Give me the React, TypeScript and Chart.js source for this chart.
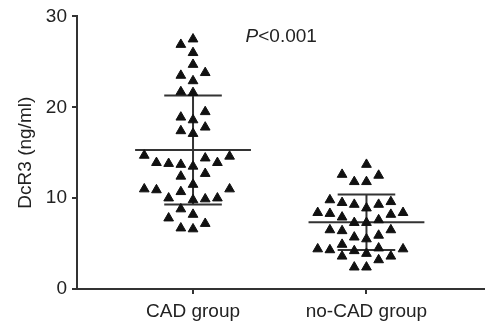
import React, { useEffect, useRef } from 'react';
import { Chart, registerables } from 'chart.js';

Chart.register(...registerables);

const categories = ['CAD group', 'no-CAD group'];

const cadValues = [
  27.5, 26.9, 26.0, 24.7, 23.8, 23.5, 22.9, 21.7, 21.6,
  19.5, 18.9, 18.6, 17.8, 17.4, 17.1,
  14.6, 13.9, 13.7, 13.5, 13.8, 13.9, 14.4, 14.7,
  12.4, 12.7, 11.5,
  11.0, 10.7, 10.0, 9.8, 9.9, 10.0, 10.9, 11.0,
  8.8, 8.2, 7.8, 7.2, 6.6, 6.7,
];

const noCadValues = [
  13.7, 12.5, 11.8, 11.8, 12.6,
  9.6, 9.3, 8.9, 9.3, 9.5, 9.8,
  8.4, 8.3, 7.9, 8.2, 8.4,
  7.3, 7.3, 7.6,
  6.5, 6.4, 6.5,
  5.9, 5.5, 5.7,
  4.5, 4.4, 4.2, 4.3, 4.4, 4.9,
  3.6, 3.9, 3.6, 3.2,
  2.4, 2.4,
];

const groupMeans = [15.3, 7.35];
const groupSDs = [6.0, 3.05];

const yTicks = [0, 10, 20, 30];
const yTitle = 'DcR3 (ng/ml)';
const pText = ['P', '<0.001'];

const FONT = "'Liberation Sans', Arial, sans-serif";
const INK = '#222';
const AXIS = '#333';

// approximate pixel scales used for the swarm layout
const PX_PER_Y = 9.07;
const PX_PER_X = 175;

function swarm(values: number[], center: number) {
  const s = 12.3; // symbol spacing px
  const h = 11.5; // vertical clearance px
  const placed: { x: number; y: number }[] = [];
  const sorted = [...values].sort((a, b) => a - b);
  for (const v of sorted) {
    const yp = v * PX_PER_Y;
    const cands: number[] = [0];
    for (let k = 1; k < 40; k++) {
      cands.push(-k * s / 2, k * s / 2);
    }
    let chosen = 0;
    for (const c of cands) {
      let ok = true;
      for (const p of placed) {
        if (Math.abs(p.y - yp) < h && Math.abs(p.x - c) < s * 0.97) { ok = false; break; }
      }
      if (ok) { chosen = c; break; }
    }
    placed.push({ x: chosen, y: yp });
  }
  return placed.map(p => ({ x: center + p.x / PX_PER_X, y: p.y / PX_PER_Y }));
}

function meanSdSets(i: number) {
  const m = groupMeans[i];
  const sd = groupSDs[i];
  const base = { showLine: true, pointRadius: 0, borderColor: AXIS, borderWidth: 2, fill: false } as any;
  return [
    { ...base, data: [{ x: i - 0.334, y: m }, { x: i + 0.334, y: m }] },
    { ...base, data: [{ x: i - 0.166, y: m + sd }, { x: i + 0.166, y: m + sd }] },
    { ...base, data: [{ x: i - 0.166, y: m - sd }, { x: i + 0.166, y: m - sd }] },
    { ...base, data: [{ x: i, y: m - sd }, { x: i, y: m + sd }] },
  ];
}

const pPlugin = {
  id: 'pLabel',
  afterDraw(chart: any) {
    const { ctx, scales } = chart;
    const px = scales.x.getPixelForValue(0.303);
    const py = scales.y.getPixelForValue(27.8);
    ctx.save();
    ctx.fillStyle = INK;
    ctx.textBaseline = 'middle';
    ctx.textAlign = 'left';
    ctx.font = `italic 19px ${FONT}`;
    ctx.fillText(pText[0], px, py);
    const w = ctx.measureText(pText[0]).width;
    ctx.font = `19px ${FONT}`;
    ctx.fillText(pText[1], px + w, py);
    ctx.restore();
  },
};

export default function App() {
  const ref = useRef<HTMLCanvasElement>(null);
  useEffect(() => {
    if (!ref.current) return;
    const pointStyle = {
      pointStyle: 'triangle',
      pointRadius: 5.6,
      pointBackgroundColor: '#111',
      pointBorderColor: '#111',
      pointBorderWidth: 1,
      showLine: false,
    };
    const chart = new Chart(ref.current, {
      type: 'scatter',
      data: {
        datasets: [
          { ...pointStyle, data: swarm(cadValues, 0) } as any,
          { ...pointStyle, data: swarm(noCadValues, 1) } as any,
          ...meanSdSets(0),
          ...meanSdSets(1),
        ],
      },
      options: {
        animation: false,
        responsive: true,
        maintainAspectRatio: false,
        events: [],
        layout: { padding: { top: 16, right: 3, left: 0, bottom: 0 } },
        plugins: { legend: { display: false }, tooltip: { enabled: false } },
        scales: {
          x: {
            type: 'linear',
            min: -0.669,
            max: 1.68,
            afterBuildTicks: (s: any) => { s.ticks = [{ value: 0 }, { value: 1 }]; },
            afterFit: (s: any) => { s.height = 36; },
            ticks: {
              callback: (v: any) => categories[Math.round(Number(v))],
              font: { family: FONT, size: 19 },
              color: INK,
              padding: 6,
              maxRotation: 0,
              autoSkip: false,
            },
            grid: { display: true, drawOnChartArea: false, drawTicks: true, tickLength: 5, color: AXIS, lineWidth: 2 },
            border: { display: true, color: AXIS, width: 2 },
          },
          y: {
            type: 'linear',
            min: 0,
            max: 30,
            afterBuildTicks: (s: any) => { s.ticks = yTicks.map(v => ({ value: v })); },
            afterFit: (s: any) => { s.width = 77; },
            ticks: {
              font: { family: FONT, size: 19 },
              color: INK,
              padding: 5,
            },
            title: {
              display: true,
              text: yTitle,
              font: { family: FONT, size: 19 },
              color: INK,
              padding: { top: 14, bottom: 0 },
            },
            grid: { display: true, drawOnChartArea: false, drawTicks: true, tickLength: 5, color: AXIS, lineWidth: 2 },
            border: { display: true, color: AXIS, width: 2 },
          },
        },
      } as any,
      plugins: [pPlugin],
    });
    return () => chart.destroy();
  }, []);
  return (
    <div style={{ position: 'absolute', left: 0, top: 0, width: 491, height: 325, background: '#fff' }}>
      <canvas ref={ref} />
    </div>
  );
}
